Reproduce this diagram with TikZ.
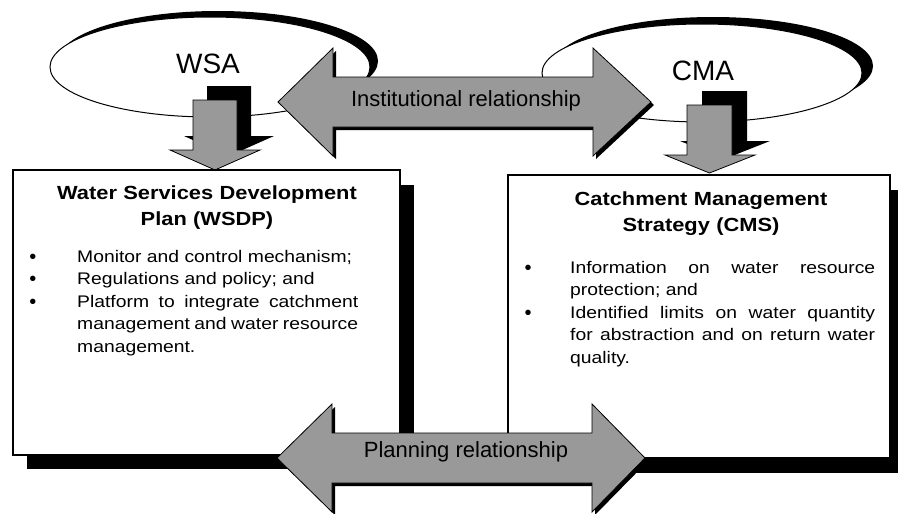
\documentclass[tikz,border=0pt]{standalone}
\usepackage{fontspec}
\setmainfont{Liberation Sans}
\newfontfamily\boxfont{Liberation Sans}[FakeStretch=1.15]
\begin{document}
\begin{tikzpicture}[x=1pt,y=-1pt,
  shadowfill/.style={fill=black,draw=none},
  ellline/.style={draw=black,line width=1pt,fill=white},
  boxline/.style={draw=black,line width=1.1pt,fill=white},
  stipple/.style={fill=black!40,draw=black,line width=0.8pt},
  agency/.style={font=\fontsize{28}{30}\selectfont,inner sep=0pt,anchor=base},
  titletext/.style={font=\boxfont\bfseries\fontsize{19}{26.5}\selectfont,text width=380pt,align=center,inner sep=0pt,anchor=base},
  itemtext/.style={font=\boxfont\fontsize{16.8}{22.6}\selectfont,align=justify,inner sep=0pt,anchor=base west,
    execute at begin node={\hyphenpenalty=10000\tolerance=9999\emergencystretch=20pt}},
  bul/.style={font=\fontsize{20}{22}\selectfont,inner sep=0pt,anchor=base},
  arrowtext/.style={font=\fontsize{22}{24}\selectfont,inner sep=0pt,text=black}
]
\useasboundingbox (0,0) rectangle (898,514);
\fill[white] (0,0) rectangle (898,514);

% ellipses (shadow offset up-right)
\fill[shadowfill] (218,61) ellipse [x radius=160pt,y radius=50pt];
\draw[ellline] (210,67) ellipse [x radius=160pt,y radius=50pt];
\fill[shadowfill] (713,66) ellipse [x radius=160pt,y radius=49pt];
\draw[ellline] (702,73) ellipse [x radius=160pt,y radius=49pt];
\node[agency] (wsa) at (208,73) {WSA};
\node[agency] (cma) at (703,80) {CMA};

% small down arrows
\fill[shadowfill] (207,86) -- (251,86) -- (251,136) -- (274,136) -- (229,156) -- (184,136) -- (207,136) -- cycle;
\draw[stipple] (193,100) -- (237,100) -- (237,150) -- (260,150) -- (215,170) -- (170,150) -- (193,150) -- cycle;
\fill[shadowfill] (702,91) -- (747,91) -- (747,141) -- (770,141) -- (724.5,159) -- (680,141) -- (702,141) -- cycle;
\draw[stipple] (687,105) -- (732,105) -- (732,155) -- (755,155) -- (709.5,173) -- (665,155) -- (687,155) -- cycle;

% boxes
\fill[shadowfill] (27,185) rectangle (414,469);
\draw[boxline] (13,170) rectangle (400,455);
\fill[shadowfill] (522,190) rectangle (904,473);
\draw[boxline] (508,175) rectangle (890,458);

\node[titletext] (wsdp) at (207,199) {Water Services Development\\Plan (WSDP)};
\node[titletext] (cms) at (701,205) {Catchment Management\\Strategy (CMS)};

\node[bul] (lb1) at (33,263) {\textbullet};
\node[bul] (lb2) at (33,285.5) {\textbullet};
\node[bul] (lb3) at (33,308) {\textbullet};
\node[itemtext,text width=281pt] (li1) at (77,262) {Monitor and control mechanism;};
\node[itemtext,text width=281pt] (li2) at (77,284.5) {Regulations and policy; and};
\node[itemtext,text width=281pt] (li3) at (77,307) {Platform to integrate catchment\linebreak management and water resource\linebreak management.};

\node[bul] (rb1) at (528,274) {\textbullet};
\node[bul] (rb2) at (528,319) {\textbullet};
\node[itemtext,text width=305pt] (ri1) at (570,273) {Information on water resource\linebreak protection; and};
\node[itemtext,text width=305pt] (ri2) at (570,318) {Identified limits on water quantity\linebreak for abstraction and on return water\linebreak quality.};

% double arrows
\fill[shadowfill] (281,105) -- (336,51) -- (336,80) -- (596,80) -- (596,51) -- (654,105) -- (596,159) -- (596,130) -- (336,130) -- (336,159) -- cycle;
\draw[stipple] (278,102) -- (333,48) -- (333,77) -- (593,77) -- (593,48) -- (651,102) -- (593,156) -- (593,127) -- (333,127) -- (333,156) -- cycle;
\node[arrowtext] (inst) at (466,101) {Institutional relationship};

\fill[shadowfill] (280,461) -- (335,407) -- (335,436) -- (595,436) -- (595,407) -- (648,461) -- (595,515) -- (595,486) -- (335,486) -- (335,515) -- cycle;
\draw[stipple] (277,458) -- (332,404) -- (332,433) -- (592,433) -- (592,404) -- (645,458) -- (592,512) -- (592,483) -- (332,483) -- (332,512) -- cycle;
\node[arrowtext] (plan) at (466,452) {Planning relationship};
\end{tikzpicture}
\end{document}
